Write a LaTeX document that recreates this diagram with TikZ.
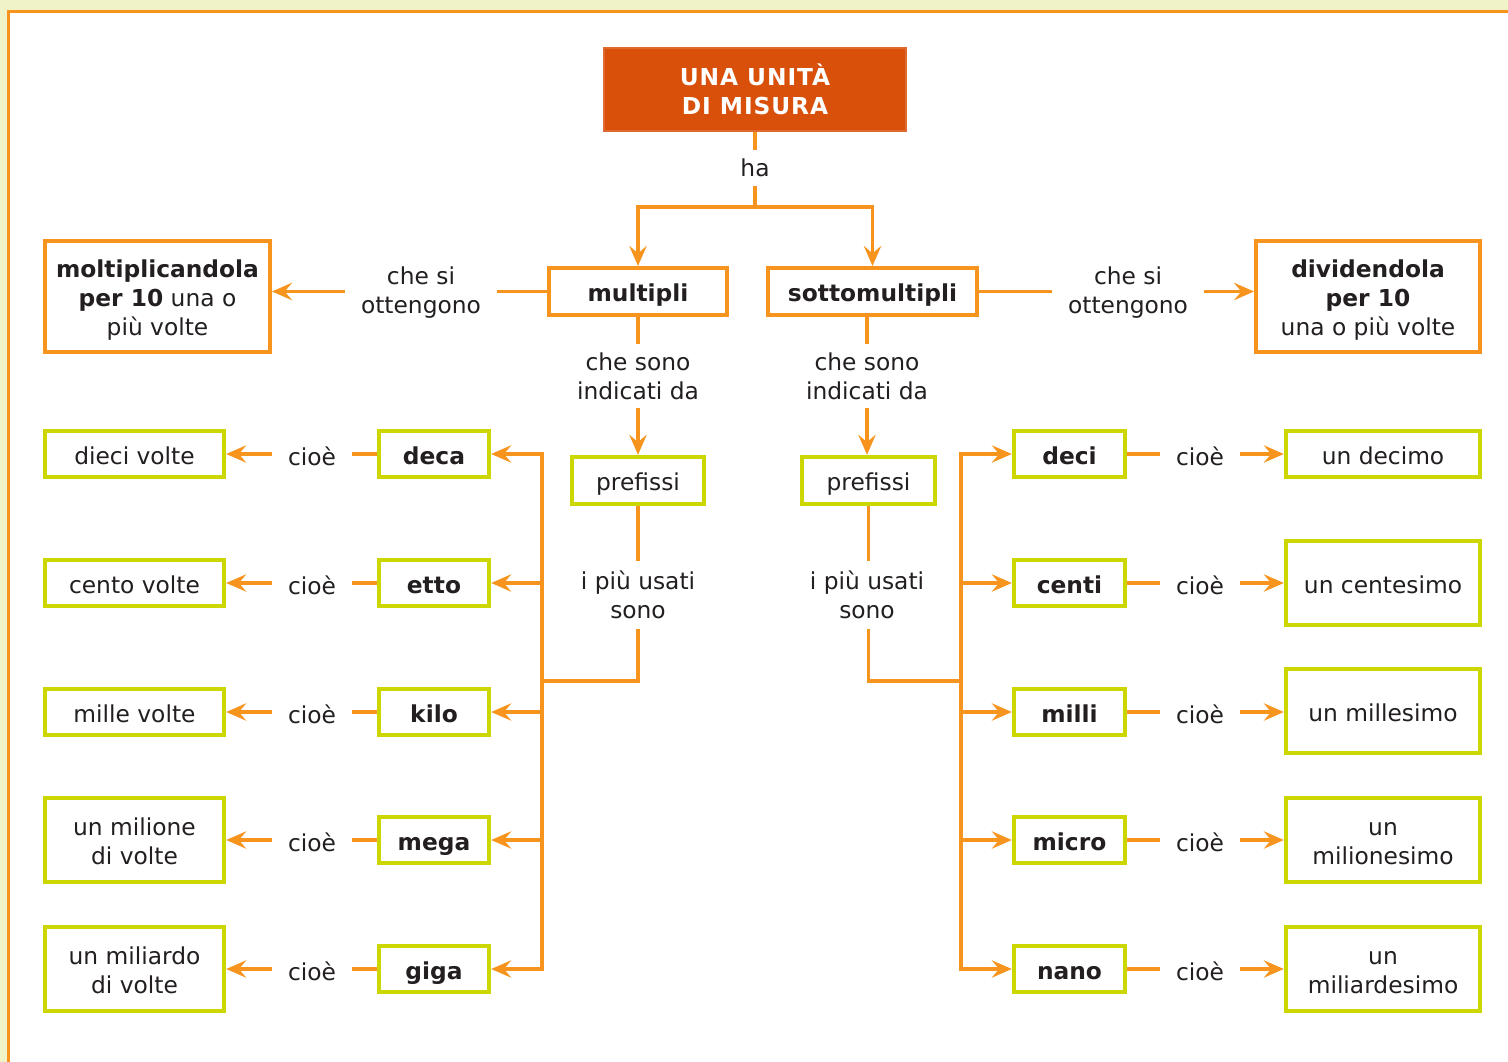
\documentclass[tikz,border=0pt]{standalone}
\usepackage{fontspec}
\setmainfont{DejaVu Sans}
\usetikzlibrary{arrows.meta}
\definecolor{bgyel}{RGB}{240,242,200}
\definecolor{org}{RGB}{247,148,29}
\definecolor{titlered}{RGB}{216,80,10}
\definecolor{grn}{RGB}{204,214,0}
\definecolor{txt}{RGB}{35,31,32}
\newcommand\tst{\rule{0pt}{20pt}}
\newcommand\bst{\rule[-4.5pt]{0pt}{4.5pt}}
\begin{document}
\begin{tikzpicture}[x=0.75pt,y=-0.75pt,
  font=\fontsize{17.5}{21.75}\selectfont, text=txt,
  obox/.style={draw=org, line width=3pt, fill=white, inner sep=0pt, align=center},
  gbox/.style={draw=grn, line width=3.3pt, fill=white, inner sep=0pt, align=center},
  tbox/.style={fill=titlered, draw=titlered!85!white, line width=1pt, inner sep=0pt, align=center, text=white, font=\fontsize{17.5}{21.75}\selectfont\bfseries\addfontfeature{LetterSpace=4}},
  lbl/.style={inner xsep=12pt, inner ysep=6pt, align=center},
  conn/.style={draw=org, line width=2.8pt},
  arr/.style={conn, -{Stealth[length=15pt,width=13pt,inset=5.5pt]}},
  arrboth/.style={conn, {Stealth[length=15pt,width=13pt,inset=5.5pt]}-{Stealth[length=15pt,width=13pt,inset=5.5pt]}},
]
\useasboundingbox (0,0) rectangle (1508,1062);
\fill[bgyel] (0,0) rectangle (1508,1062);
\draw[org, line width=2.4pt, fill=white] (8.5,11.5) rectangle (1540,1090);

% title
\node[tbox, minimum width=302*0.75pt, minimum height=83*0.75pt] (title) at (755,89.5) {UNA UNITÀ\\DI MISURA};
\node[lbl, inner ysep=6.75pt] (ha) at (755,168) {ha};
\coordinate (hb) at (755,207);

% second level
\node[obox, minimum width=178*0.75pt, minimum height=47*0.75pt] (mul) at (638,291.5) {\tst\textbf{multipli}\bst};
\node[obox, minimum width=209*0.75pt, minimum height=47*0.75pt] (sot) at (872.5,291.5) {\tst\textbf{sottomultipli}\bst};
\node[obox, minimum width=225*0.75pt, minimum height=111*0.75pt] (molt) at (157.5,296.5) {\tst\textbf{moltiplicandola}\\\textbf{per 10} una o\\più volte\bst};
\node[obox, minimum width=224*0.75pt, minimum height=111*0.75pt] (divi) at (1368,296.5) {\tst\textbf{dividendola}\\\textbf{per 10}\\una o più volte\bst};
\node[lbl] (ol) at (421,293) {che si\\ottengono};
\node[lbl] (or) at (1128,293) {che si\\ottengono};

\node[lbl] (il) at (638,376) {che sono\\indicati da};
\node[lbl] (ir) at (867,376) {che sono\\indicati da};
\node[gbox, minimum width=132*0.75pt, minimum height=47*0.75pt] (pl) at (638,480.5) {\tst prefissi\bst};
\node[gbox, minimum width=133*0.75pt, minimum height=47*0.75pt] (pr) at (868.5,480.5) {\tst prefissi\bst};
\node[lbl, inner ysep=7pt] (ul) at (638,595) {i più usati\\sono};
\node[lbl, inner ysep=7pt] (ur) at (867,595) {i più usati\\sono};
\coordinate (tl) at (542,681);
\coordinate (tr) at (961,681);

% left prefixes
\foreach \n/\t/\y in {deca/deca/454, etto/etto/583, kilo/kilo/712, mega/mega/840, giga/giga/969}
  \node[gbox, minimum width=110*0.75pt, minimum height=46*0.75pt] (\n) at (434,\y) {\tst\textbf{\t}\bst};
\foreach \n/\y in {cl1/456, cl2/585, cl3/714, cl4/842, cl5/971}
  \node[lbl] (\n) at (312,\y) {cioè};
\node[gbox, minimum width=179*0.75pt, minimum height=46*0.75pt] (dieci) at (134.5,454) {\tst dieci volte\bst};
\node[gbox, minimum width=179*0.75pt, minimum height=46*0.75pt] (cento) at (134.5,583) {\tst cento volte\bst};
\node[gbox, minimum width=179*0.75pt, minimum height=46*0.75pt] (mille) at (134.5,712) {\tst mille volte\bst};
\node[gbox, minimum width=179*0.75pt, minimum height=84*0.75pt] (milione) at (134.5,840) {\tst un milione\\di volte\bst};
\node[gbox, minimum width=179*0.75pt, minimum height=84*0.75pt] (miliardo) at (134.5,969) {\tst un miliardo\\di volte\bst};

% right prefixes
\foreach \n/\t/\y in {deci/deci/454, centi/centi/583, milli/milli/712, micro/micro/840, nano/nano/969}
  \node[gbox, minimum width=111*0.75pt, minimum height=46*0.75pt] (\n) at (1069.5,\y) {\tst\textbf{\t}\bst};
\foreach \n/\y in {cr1/456, cr2/585, cr3/714, cr4/842, cr5/971}
  \node[lbl] (\n) at (1200,\y) {cioè};
\node[gbox, minimum width=194*0.75pt, minimum height=46*0.75pt] (decimo) at (1383,454) {\tst un decimo\bst};
\node[gbox, minimum width=194*0.75pt, minimum height=84*0.75pt] (centesimo) at (1383,583) {\tst un centesimo\bst};
\node[gbox, minimum width=194*0.75pt, minimum height=84*0.75pt] (millesimo) at (1383,711) {\tst un millesimo\bst};
\node[gbox, minimum width=194*0.75pt, minimum height=84*0.75pt] (milionesimo) at (1383,840) {\tst un\\milionesimo\bst};
\node[gbox, minimum width=194*0.75pt, minimum height=84*0.75pt] (miliardesimo) at (1383,969) {\tst un\\miliardesimo\bst};

% connectors top
\draw[conn] (title.south) -- (ha.north);
\draw[conn] (ha.south) -- (hb);
\draw[arr] (hb) -| (mul.north);
\draw[arr] (hb) -| (sot.north);
\draw[conn] (mul.west) -- (mul.west -| ol.east);
\draw[arr] (ol.west |- mul.west) -- (molt.east |- mul.west);
\draw[conn] (sot.east) -- (sot.east -| or.west);
\draw[arr] (or.east |- sot.east) -- (divi.west |- sot.east);
\draw[conn] (mul.south) -- (il.north);
\draw[arr] (il.south) -- (pl.north);
\draw[conn] (sot.south -| ir.north) -- (ir.north);
\draw[arr] (ir.south) -- (ir.south |- pr.north);
\draw[conn] (pl.south) -- (ul.north);
\draw[conn] (ul.south) |- (tl);
\draw[conn] (pr.south) -- (pr.south |- ur.north);
\draw[conn] (ur.south -| pr.south) |- (tr);

% trunks
\draw[arrboth] (deca.east) -- (deca.east -| tl) -- (giga.east -| tl) -- (giga.east);
\foreach \n in {etto,kilo,mega} \draw[arr] (\n.east -| tl) -- (\n.east);
\draw[arrboth] (deci.west) -- (deci.west -| tr) -- (nano.west -| tr) -- (nano.west);
\foreach \n in {centi,milli,micro} \draw[arr] (\n.west -| tr) -- (\n.west);

% cioe rows
\foreach \p/\c/\d in {deca/cl1/dieci, etto/cl2/cento, kilo/cl3/mille, mega/cl4/milione, giga/cl5/miliardo}{
  \draw[conn] (\p.west) -- (\p.west -| \c.east);
  \draw[arr] (\c.west |- \p.west) -- (\d.east |- \p.west);
}
\foreach \p/\c/\d in {deci/cr1/decimo, centi/cr2/centesimo, milli/cr3/millesimo, micro/cr4/milionesimo, nano/cr5/miliardesimo}{
  \draw[conn] (\p.east) -- (\p.east -| \c.west);
  \draw[arr] (\c.east |- \p.east) -- (\d.west |- \p.east);
}
\end{tikzpicture}
\end{document}
